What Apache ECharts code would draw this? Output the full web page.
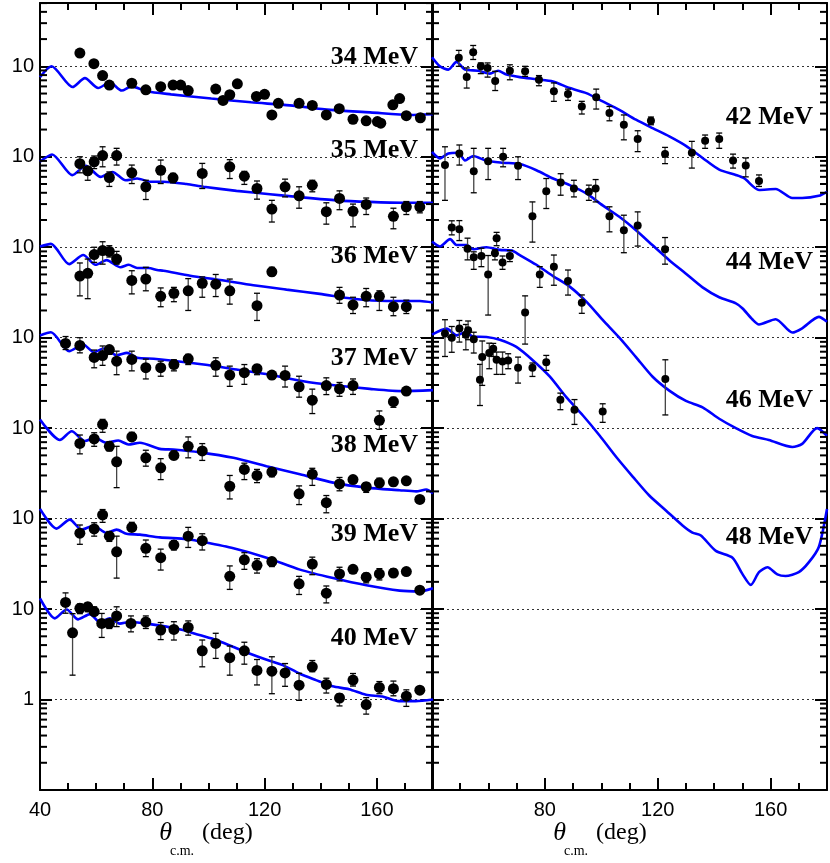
<!DOCTYPE html>
<html><head><meta charset="utf-8">
<script src="https://cdn.jsdelivr.net/npm/echarts@6/dist/echarts.min.js"></script>
<style>html,body{margin:0;padding:0;background:#fff}#c{width:830px;height:863px}</style>
</head><body><div id="c"></div>
<script>
// energies and their decade offsets (values are multiplied by 10^k for display)
const energiesLeft = ['34 MeV','35 MeV','36 MeV','37 MeV','38 MeV','39 MeV','40 MeV'];
const offsetsLeft = [6,5,4,3,2,1,0];
const energiesRight = ['42 MeV','44 MeV','46 MeV','48 MeV'];
const offsetsRight = [6,5,4,3];
const xTicks = [40,80,120,160];
const yTickLabelOne = '1', yTickLabelTen = '10';

// data points: [theta, value, errLow, errHigh]
const d34 = [[54.2,14.0,14.0,14.0],[59.2,10.7,10.7,10.7],[62.3,7.9,7.9,7.9],[64.7,6.2,6.2,6.2],[72.7,6.5,6.5,6.5],[77.7,5.5,5.5,5.5],[83.0,5.95,5.95,5.95],[87.4,6.2,6.2,6.2],[90.1,6.2,6.2,6.2],[92.8,5.4,5.4,5.4],[102.6,5.6,5.6,5.6],[105.2,4.2,4.2,4.2],[107.6,4.85,4.85,4.85],[110.3,6.4,6.4,6.4],[117.1,4.65,4.65,4.65],[120.0,4.9,4.9,4.9],[122.6,2.9,2.9,2.9],[124.9,3.9,3.9,3.9],[132.3,3.9,3.9,3.9],[137.0,3.7,3.7,3.7],[142.0,2.9,2.9,2.9],[146.6,3.4,3.4,3.4],[151.5,2.6,2.6,2.6],[156.2,2.5,2.5,2.5],[160.2,2.45,2.45,2.45],[161.4,2.35,2.35,2.35],[165.7,3.75,3.75,3.75],[168.1,4.4,4.4,4.4],[170.5,2.85,2.85,2.85],[175.5,2.7,2.7,2.7]];
const d35 = [[54.2,8.4,6.65,10],[57.0,7.0,5.5,7.75],[59.3,8.8,7.4,10.2],[62.3,10.3,7.75,12.9],[64.7,5.9,4.7,6.8],[67.3,10.3,8.1,12.4],[72.7,6.65,5.06,8.1],[77.7,4.66,3.37,5.5],[83.0,7.1,5.06,9.2],[87.4,5.86,5.15,6.55],[97.8,6.54,4.46,8.45],[107.6,7.75,5.75,9.3],[112.8,6.1,4.95,6.9],[117.3,4.46,3.4,5.4],[122.6,2.64,1.9,3.3],[127.3,4.66,3.6,5.66],[132.3,3.7,2.7,4.66],[137.0,4.86,4.1,5.5],[142.0,2.47,1.8,3.1],[146.7,3.46,2.6,4.2],[151.5,2.5,1.68,3.0],[156.2,2.97,2.3,3.5],[165.9,2.2,1.6,2.7],[170.5,2.8,2.3,3.2],[175.3,2.8,2.4,3.2]];
const d36 = [[54.2,4.8,2.9,6.7],[57.0,5.15,2.7,7.4],[59.3,8.3,6.8,10],[62.3,9.2,6.5,11.5],[64.7,9.0,7.8,10.4],[67.3,7.4,6.5,9.0],[72.7,4.3,3.05,5.5],[77.7,4.45,3.3,6.0],[83.0,2.87,2.2,3.55],[87.7,3.1,2.5,3.6],[92.8,3.3,2.0,4.5],[97.8,4.0,2.8,4.7],[102.6,3.9,2.85,5.0],[107.6,3.3,2.35,4.45],[117.3,2.26,1.55,3.1],[122.6,5.35,4.85,6.0],[146.7,2.96,2.4,3.6],[151.5,2.3,1.85,2.8],[156.2,2.87,2.2,3.5],[160.9,2.87,2.0,3.3],[165.9,2.2,1.75,2.8],[170.5,2.2,1.85,2.6]];
const d37 = [[49.1,8.65,7.4,10.3],[54.2,8.2,6.8,10],[59.3,6.05,4.65,7.3],[62.3,6.35,4.95,8.1],[64.7,7.4,6.55,8.0],[67.3,5.5,3.9,7.1],[72.7,5.75,4.3,7.1],[77.7,4.66,3.5,5.8],[83.0,4.66,3.75,5.5],[87.7,5.05,4.3,5.7],[92.8,5.85,5.05,6.55],[102.6,4.95,3.75,6.0],[107.6,3.86,2.9,4.85],[112.8,4.1,3.05,5.05],[117.3,4.55,3.9,5.05],[122.6,3.86,3.5,4.2],[127.3,3.83,2.85,4.85],[132.3,2.87,2.2,3.75],[137.0,2.04,1.45,2.7],[142.0,2.96,2.35,3.6],[146.7,2.72,2.25,3.2],[151.5,2.96,2.36,3.5],[160.9,1.22,0.97,1.55],[165.9,1.96,1.7,2.2],[170.5,2.57,2.35,2.8]];
const d38 = [[54.2,6.77,5.2,8.4],[59.3,7.6,6.3,8.9],[62.3,11.0,9.0,12.5],[64.7,6.3,5.6,7.1],[67.3,4.24,2.2,6.3],[72.7,8.0,7.4,9.0],[77.7,4.7,3.8,5.7],[83.0,3.64,2.7,4.6],[87.7,5.0,4.5,5.6],[92.8,6.3,4.7,8.0],[97.8,5.6,4.4,6.75],[107.6,2.28,1.65,3.0],[112.8,3.5,2.7,4.1],[117.3,3.0,2.5,3.5],[122.6,3.28,2.9,3.6],[132.3,1.88,1.43,2.3],[137.0,3.1,2.33,3.6],[142.0,1.5,1.16,1.8],[146.7,2.42,2.03,2.85],[151.5,2.7,2.5,2.95],[156.2,2.25,1.95,2.5],[160.9,2.48,2.24,2.8],[165.9,2.55,2.3,2.8],[170.5,2.62,2.62,2.62],[175.3,1.63,1.63,1.63]];
const d39 = [[54.2,6.9,5.2,8.5],[59.3,7.7,6.4,9.0],[62.3,11.0,9.1,12.6],[64.7,6.4,5.6,7.2],[67.3,4.3,2.2,6.4],[72.7,8.0,7.4,9.1],[77.7,4.7,3.8,5.8],[83.0,3.7,2.7,4.6],[87.7,5.1,4.5,5.7],[92.8,6.4,4.8,8.0],[97.8,5.7,4.5,6.8],[107.6,2.3,1.65,3.0],[112.8,3.5,2.75,4.2],[117.3,3.05,2.5,3.6],[122.6,3.35,2.95,3.7],[132.3,1.9,1.45,2.3],[137.0,3.15,2.4,3.75],[142.0,1.5,1.17,1.8],[146.7,2.45,2.05,2.9],[151.5,2.75,2.55,3.0],[156.2,2.25,1.95,2.5],[160.9,2.45,2.1,2.8],[165.9,2.5,2.3,2.8],[170.5,2.6,2.6,2.6],[175.3,1.62,1.62,1.62]];
const d40 = [[49.1,11.85,9.0,15.1],[51.6,5.47,1.86,8.9],[54.2,10.2,8.9,11.4],[57.0,10.6,9.35,11.75],[59.3,9.35,8.6,10.6],[62.0,6.94,4.86,8.95],[64.7,6.94,6.1,7.7],[67.3,8.4,6.4,10.6],[72.4,6.94,5.6,8.4],[77.7,7.2,6.1,8.4],[83.0,5.86,4.6,7.1],[87.7,5.95,4.55,7.25],[92.8,6.27,5.15,7.4],[97.8,3.46,2.3,4.55],[102.6,4.17,2.85,5.4],[107.6,2.9,1.86,3.9],[112.8,3.46,2.46,4.3],[117.3,2.1,1.45,2.77],[122.6,2.06,1.16,2.97],[127.3,1.97,1.4,2.5],[132.3,1.44,0.98,1.95],[137.0,2.3,2.03,2.7],[142.0,1.47,1.18,1.72],[146.7,1.04,0.85,1.16],[151.5,1.64,1.41,1.94],[156.2,0.88,0.69,1.05],[160.9,1.36,1.16,1.58],[165.9,1.32,1.1,1.6],[170.5,1.09,0.84,1.28],[175.3,1.27,1.27,1.27]];
const d42 = [[49.5,12.4,10,15],[52.3,7.6,5.75,9.6],[54.6,14.3,11.9,17],[57.3,10,8.3,10.9],[59.7,9.6,7.6,10.9],[62.4,6.9,5.4,8.8],[67.6,8.95,7.1,10.4],[73.0,8.8,7.75,10],[77.9,7.1,6.1,7.9],[83.2,5.3,4.1,6.55],[88.2,4.94,4.2,5.6],[93.1,3.6,2.97,4.1],[98.2,4.54,3.37,5.6],[102.9,3.05,2.5,3.6],[108.0,2.26,1.54,2.9],[112.9,1.57,1.14,1.94],[117.6,2.5,2.26,2.75],[122.6,1.07,0.84,1.27],[132.1,1.11,0.75,1.48],[136.8,1.5,1.24,1.74],[141.8,1.57,1.24,1.83],[146.7,0.91,0.75,1.07],[151.2,0.8,0.6,0.97],[155.9,0.54,0.47,0.63]];
const d44 = [[44.6,8.1,3.3,12.9],[49.7,10.9,8.1,13.5],[54.8,6.94,4.0,12.4],[59.9,8.95,5.6,12.4],[65.2,10,7.75,12.4],[70.5,7.95,5.6,10],[75.6,2.2,1.14,3.17],[80.5,4.17,2.68,5.75],[85.6,5.2,3.76,6.5],[90.3,4.46,3.6,5.5],[95.6,4.1,3.3,4.86],[98.0,4.46,3.17,5.6],[102.9,2.2,1.48,2.8],[108.0,1.54,0.87,2.26],[112.9,1.74,1.03,2.46],[122.6,0.95,0.65,1.28]];
const d46 = [[47.0,16.5,13.7,19.6],[49.7,15.8,11.85,19.7],[52.6,9.6,7.25,12.6],[54.8,7.75,5.7,8.9],[57.5,8.0,6.1,9.75],[59.9,5.0,1.78,8.1],[62.3,8.6,7.25,9.35],[62.9,12.6,10.4,14.6],[65.0,6.77,5.7,8.0],[67.6,8.0,6.94,9.2],[73.0,1.9,0.85,2.9],[78.2,5.0,3.6,6.1],[83.2,6.1,3.8,8.2],[88.2,4.24,2.96,5.6],[93.1,2.44,1.86,2.97],[122.7,0.35,0.14,0.57]];
const d48 = [[44.6,11.1,6.2,15.8],[47.0,10,6.9,13.3],[49.7,12.6,8.95,15.5],[52.0,10.8,7.35,14],[52.8,12.1,9.5,15.3],[54.8,9.6,6.77,11.5],[57.0,3.43,1.78,5.07],[57.8,6.1,2.97,9.2],[60.3,6.77,4.54,8.7],[61.7,7.55,6.2,8.65],[62.9,5.7,3.93,6.94],[65.0,5.47,3.93,6.94],[67.0,5.6,4.54,6.65],[70.5,4.66,3.15,6.1],[75.6,4.66,3.73,5.25],[80.5,5.37,4.35,6.37],[85.5,2.06,1.6,2.44],[90.5,1.6,1.1,2.07],[100.5,1.53,1.16,1.86]];

// calculated curves: [theta, value]
const c34 = [[40,7.6],[44.1,10],[51.6,5.9],[56,7.4],[60.7,5.75],[64.9,6.65],[69.1,5.4],[72.6,6.0],[78,5.3],[86.7,4.9],[101,4.4],[115.2,4.0],[129,3.7],[143.4,3.3],[157.6,3.1],[171.8,2.9],[180,2.95]];
const c35 = [[40,8.8],[44.3,10.6],[51.5,6.27],[56.3,7.95],[61.6,6.0],[65.8,6.8],[70.5,5.5],[74.6,5.75],[79.4,5.3],[84,5.3],[92.2,5.0],[98.3,4.66],[110,4.2],[121.9,3.86],[133.8,3.55],[145.6,3.3],[157.5,3.17],[169.3,3.1],[180,3.1]];
const c36 = [[40,10.2],[43.9,10.9],[50.4,6.5],[55.4,8.2],[59.8,6.4],[63.7,7.2],[68.7,6.0],[71.6,6.4],[74.6,5.9],[78.7,5.9],[81.7,5.6],[84,5.5],[93.5,4.85],[104.1,4.35],[116,3.8],[127.8,3.4],[139.7,3.05],[151.5,2.7],[163.4,2.55],[175.3,2.55],[180,2.45]];
const c37 = [[40,10.6],[43.9,11.5],[50.4,7.1],[55.4,8.4],[59.2,6.9],[62.7,7.6],[67.4,6.4],[71,6.8],[74.6,6.0],[80.5,5.85],[86.5,5.6],[98.3,5.05],[110,4.45],[121.9,3.9],[133.8,3.3],[145.6,2.96],[157.5,2.72],[169.3,2.57],[180,2.63]];
const c38 = [[40,12.5],[47.1,7.4],[51.3,9.25],[56,7.2],[59.6,7.8],[63.7,6.9],[67.9,7.3],[71.5,6.6],[75.6,6.9],[82.7,5.9],[87.5,5.8],[97,5.4],[108.9,4.7],[120.7,3.8],[132.6,3.1],[144.4,2.5],[156.3,2.2],[168.1,2.06],[174,2.0],[177.6,2.1],[180,1.9]];
const c39 = [[40,12.8],[45.9,7.75],[50.6,9.75],[54.8,7.55],[59,8.35],[63.7,6.95],[67.3,7.55],[70.8,6.8],[75.6,6.65],[82.7,6.2],[92.2,5.95],[97,5.6],[108.9,4.7],[120.7,3.7],[132.6,2.73],[144.4,2.2],[156.3,1.83],[168.1,1.6],[175.3,1.57],[180,1.7]];
const c40 = [[40,13.1],[45.3,7.9],[49.5,9.9],[53.6,7.7],[57.8,8.8],[61.3,7.2],[64.9,7.9],[68.4,6.9],[72,7.2],[77.9,6.9],[85,6.4],[90.9,5.86],[96.8,5.16],[102.8,4.55],[108.7,3.83],[114.6,3.23],[120.5,2.77],[126.5,2.4],[132.4,1.94],[138.3,1.64],[144.2,1.4],[150.1,1.3],[156.1,1.13],[162,1.08],[167.9,0.96],[173.8,0.96],[180,1.0]];
const c42 = [[40,12.6],[42.8,10],[45.8,9.2],[48.7,11.2],[51.7,9.2],[56.4,8.95],[60.5,8.3],[63.4,8.95],[66.4,8.1],[71.1,7.6],[77,7.2],[82.9,6.8],[88.8,5.75],[94.7,5.06],[100.5,4.1],[106.4,3.3],[112.3,2.57],[118.2,2.07],[124.1,1.68],[130,1.32],[135.9,0.97],[141.8,0.72],[147.7,0.63],[150.6,0.58],[155.9,0.43],[161.8,0.44],[167.7,0.35],[171.2,0.35],[177.1,0.37],[180,0.41]];
const c44 = [[40,11.3],[42.8,9.6],[45.8,10.9],[49.3,11.1],[51.7,9.1],[54.6,10.2],[59.3,9.05],[65.2,8.6],[71.1,8.3],[77,7.1],[82.9,5.75],[88.8,4.86],[94.7,3.93],[100.5,2.9],[106.4,2.17],[112.3,1.54],[118.2,1.05],[124.1,0.72],[130,0.51],[135.9,0.36],[141.8,0.28],[147.7,0.24],[150.1,0.21],[153.5,0.16],[155.9,0.14],[161.8,0.16],[167.7,0.114],[171.2,0.127],[177.1,0.17],[180,0.15]];
const c46 = [[40,11.55],[42.8,10.2],[46.4,12.3],[48.7,10.6],[52.3,10.6],[54.6,9.5],[59.3,10],[64,9.35],[68.2,9.2],[71.1,8.2],[77,6.4],[82.9,4.8],[88.8,3.67],[94.7,2.5],[100.5,1.57],[106.4,1.0],[112.3,0.61],[118.2,0.37],[124.1,0.26],[130,0.2],[135.9,0.17],[141.8,0.127],[147.7,0.1],[153.5,0.082],[159.4,0.074],[167.7,0.062],[171.2,0.067],[176.5,0.1],[180,0.082]];
const c48 = [[40,10.8],[45.2,12.6],[48.7,10.6],[51.7,11.5],[54.6,10.3],[59.3,10.2],[64,9.5],[69.9,7.9],[75.8,5.6],[81.7,3.73],[87.6,2.2],[93.5,1.38],[99.4,0.83],[105.3,0.48],[111.2,0.29],[117,0.18],[122.9,0.123],[128.8,0.084],[132.3,0.07],[135.3,0.065],[140.6,0.044],[146.5,0.037],[150,0.0245],[153,0.0185],[155.9,0.0256],[158.9,0.029],[162.4,0.0242],[165.3,0.0232],[170,0.0256],[173.6,0.033],[177.1,0.0486],[180,0.128]];

const dataLeft = [d34,d35,d36,d37,d38,d39,d40];
const curvesLeft = [c34,c35,c36,c37,c38,c39,c40];
const dataRight = [d42,d44,d46,d48];
const curvesRight = [c42,c44,c46,c48];

const chart = echarts.init(document.getElementById('c'));
const YMIN = 0.1, YMAX = Math.pow(10,7.7);
const sc = k => Math.pow(10,k);

function yFmt(v){
  const l = Math.log10(v);
  if (Math.abs(l - Math.round(l)) > 1e-6) return '';
  const r = Math.round(l);
  if (r === 0) return yTickLabelOne;
  if (r >= 1 && r <= 7) return yTickLabelTen;
  return '';
}
const axisLineStyle = {lineStyle:{color:'#000',width:2}};
function xAx(grid, pos, labels){
  return {type:'value', gridIndex:grid, position:pos, min:40, max:180, interval:40,
    axisLine:{show:true,onZero:false,...axisLineStyle},
    axisTick:{inside:true,length:12,lineStyle:{color:'#000',width:2}},
    minorTick:{show:true,splitNumber:4,length:7,lineStyle:{color:'#000',width:2}},
    axisLabel:{show:labels,color:'#000',fontSize:20,fontFamily:'Liberation Sans',margin:10,
      formatter:v=> (grid===1 && v===40) ? '' : (xTicks.indexOf(v)>=0? String(v):'')},
    splitLine:{show:false}};
}
function yAx(grid, pos, labels){
  return {type:'log', logBase:10, gridIndex:grid, position:pos, min:YMIN, max:YMAX, splitNumber:10,
    axisLine:{show:true,onZero:false,...axisLineStyle},
    axisTick:{inside:true,length:12,lineStyle:{color:'#000',width:2}},
    axisLabel:{show:labels,color:'#000',fontSize:20,fontFamily:'Liberation Sans',margin:6,formatter:yFmt,showMinLabel:false,showMaxLabel:false},
    splitLine:{show:pos==='left',lineStyle:{color:'#333',type:[2,3],width:1}}};
}
const xAxis=[xAx(0,'bottom',true),xAx(0,'top',false),xAx(1,'bottom',true),xAx(1,'top',false)];
const yAxis=[yAx(0,'left',true),yAx(0,'right',false),yAx(1,'left',false),yAx(1,'right',false)];

const series=[];
function addSet(data, curves, offs, xi, yi, sym){
  curves.forEach((c,i)=>{
    series.push({type:'line',xAxisIndex:xi,yAxisIndex:yi,showSymbol:false,smooth:0.25,
      lineStyle:{color:'#0000ff',width:2.6},data:c.map(p=>[p[0],p[1]*sc(offs[i])]),z:3,animation:false});
  });
  data.forEach((d,i)=>{
    const f=sc(offs[i]);
    series.push({type:'custom',xAxisIndex:xi,yAxisIndex:yi,z:4,animation:false,
      data:d.filter(p=>p[2]!==p[3]).map(p=>[p[0],p[2]*f,p[3]*f]),
      renderItem:(params,api)=>{
        const a=api.coord([api.value(0),api.value(1)]), b=api.coord([api.value(0),api.value(2)]);
        const st={stroke:'#444',lineWidth:1.3};
        return {type:'group',children:[
          {type:'line',shape:{x1:a[0],y1:a[1],x2:b[0],y2:b[1]},style:st},
          {type:'line',shape:{x1:a[0]-3,y1:a[1],x2:a[0]+3,y2:a[1]},style:{stroke:'#000',lineWidth:1.3}},
          {type:'line',shape:{x1:b[0]-3,y1:b[1],x2:b[0]+3,y2:b[1]},style:{stroke:'#000',lineWidth:1.3}}]};
      }});
    series.push({type:'scatter',xAxisIndex:xi,yAxisIndex:yi,symbol:'circle',symbolSize:sym,z:5,animation:false,
      itemStyle:{color:'#000',opacity:1},data:d.map(p=>[p[0],p[1]*f])});
  });
}
addSet(dataLeft,curvesLeft,offsetsLeft,0,0,11);
addSet(dataRight,curvesRight,offsetsRight,2,2,8);

// minor log ticks (2..9 per decade) on both sides of each panel
const minorVals=[];
for(let k=-1;k<=7;k++) for(let m=2;m<=9;m++){const v=m*Math.pow(10,k); if(v<YMAX) minorVals.push([100,v]);}
[0,2].forEach(ax=>{
  series.push({type:'custom',xAxisIndex:ax,yAxisIndex:ax,z:6,animation:false,silent:true,data:minorVals,
    renderItem:(params,api)=>{
      const cs=params.coordSys; const y=api.coord([api.value(0),api.value(1)])[1];
      const st={stroke:'#000',lineWidth:2};
      return {type:'group',children:[
        {type:'line',shape:{x1:cs.x,y1:y,x2:cs.x+7,y2:y},style:st},
        {type:'line',shape:{x1:cs.x+cs.width-7,y1:y,x2:cs.x+cs.width,y2:y},style:st}]};
    }});
});

const lblStyle={font:'bold 26px "Liberation Serif"',fill:'#000',textAlign:'right',textVerticalAlign:'middle'};
const lblLeftY=[57,150,256,358,445,534,638];
const lblRightY=[117,262,400,537];
const graphic=[];
energiesLeft.forEach((t,i)=>graphic.push({type:'text',x:418,y:lblLeftY[i],z:10,style:{...lblStyle,text:t}}));
energiesRight.forEach((t,i)=>graphic.push({type:'text',x:813,y:lblRightY[i],z:10,style:{...lblStyle,text:t}}));
[180,574].forEach(cx=>{
  graphic.push({type:'text',x:cx-8,y:833,style:{text:'θ',font:'italic 26px "Liberation Serif"',fill:'#000',textAlign:'right',textVerticalAlign:'middle'}});
  graphic.push({type:'text',x:cx-10,y:851,style:{text:'c.m.',font:'14px "Liberation Serif"',fill:'#000',textAlign:'left',textVerticalAlign:'middle'}});
  graphic.push({type:'text',x:cx+22,y:833,style:{text:'(deg)',font:'24px "Liberation Serif"',fill:'#000',textAlign:'left',textVerticalAlign:'middle'}});
});

chart.setOption({
  animation:false,
  grid:[{left:40,top:3,width:393,height:787},{left:432,top:3,width:396,height:787}],
  xAxis, yAxis, series, graphic
});
</script></body></html>
